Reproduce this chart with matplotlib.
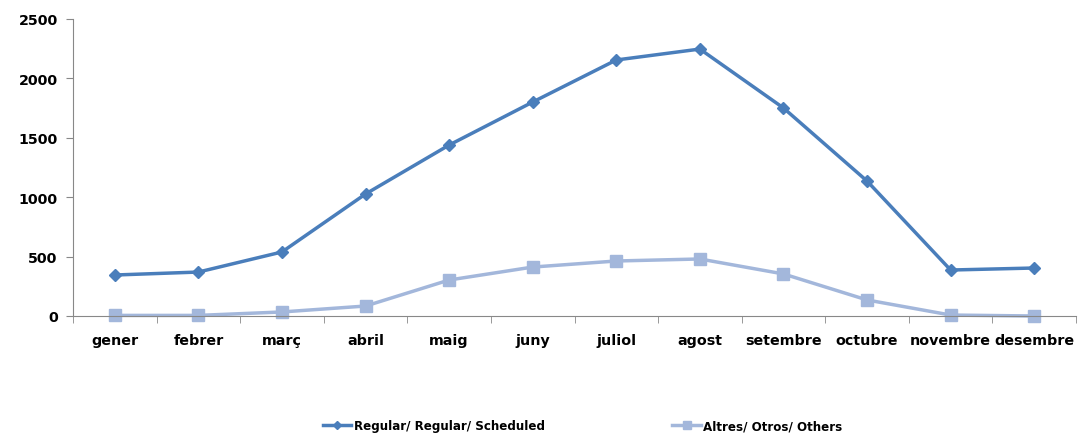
import matplotlib
matplotlib.use("Agg")
import matplotlib.pyplot as plt
import numpy as np

months = ["gener", "febrer", "març", "abril", "maig", "juny", "juliol",
          "agost", "setembre", "octubre", "novembre", "desembre"]
regular = [345, 370, 539, 1027, 1439, 1801, 2155, 2247, 1751, 1136, 387, 404]
others = [5, 5, 34, 84, 303, 412, 463, 480, 354, 135, 8, 0]
yticks = [0, 500, 1000, 1500, 2000, 2500]

plt.rcParams['font.family'] = ['DejaVu Sans']
fig = plt.figure(figsize=(10.79, 4.35), dpi=100)
ax = fig.add_axes([73/1079, 1-317/435, (1076-73)/1079, (317-20)/435])

x = np.arange(len(months))
ax.plot(x, regular, color="#4A7EBB", lw=2.5, marker="D", ms=6.5,
        label="Regular/ Regular/ Scheduled")
ax.plot(x, others, color="#A3B7DB", lw=2.5, marker="s", ms=8.5,
        label="Altres/ Otros/ Others")

ax.set_xlim(-0.5, len(months)-0.5)
ax.set_ylim(0, 2500)
ax.set_yticks(yticks)
ax.set_yticklabels([str(v) for v in yticks], fontweight="bold", fontsize=10.3)
ax.set_xticks(x)
ax.set_xticklabels(months, fontweight="bold", fontsize=10.3)
ax.tick_params(axis="x", which="major", length=0, pad=12)
ax.set_xticks(np.arange(-0.5, len(months), 1), minor=True)
ax.tick_params(axis="x", which="minor", length=5, color="#888888", direction="out")
ax.tick_params(axis="y", length=5, color="#888888", direction="out", pad=6)
for s in ["top", "right"]:
    ax.spines[s].set_visible(False)
for s in ["left", "bottom"]:
    ax.spines[s].set_color("#888888")
for line in ax.lines:
    line.set_clip_on(False)

fig.legend(loc="center", bbox_to_anchor=(0.54, 1-427/435), ncol=2,
           frameon=False, prop={"weight": "bold", "size": 8.6},
           columnspacing=10.7, handlelength=2.4, handletextpad=0.2,
           markerscale=0.6)

fig.savefig("out.png", dpi=100)
